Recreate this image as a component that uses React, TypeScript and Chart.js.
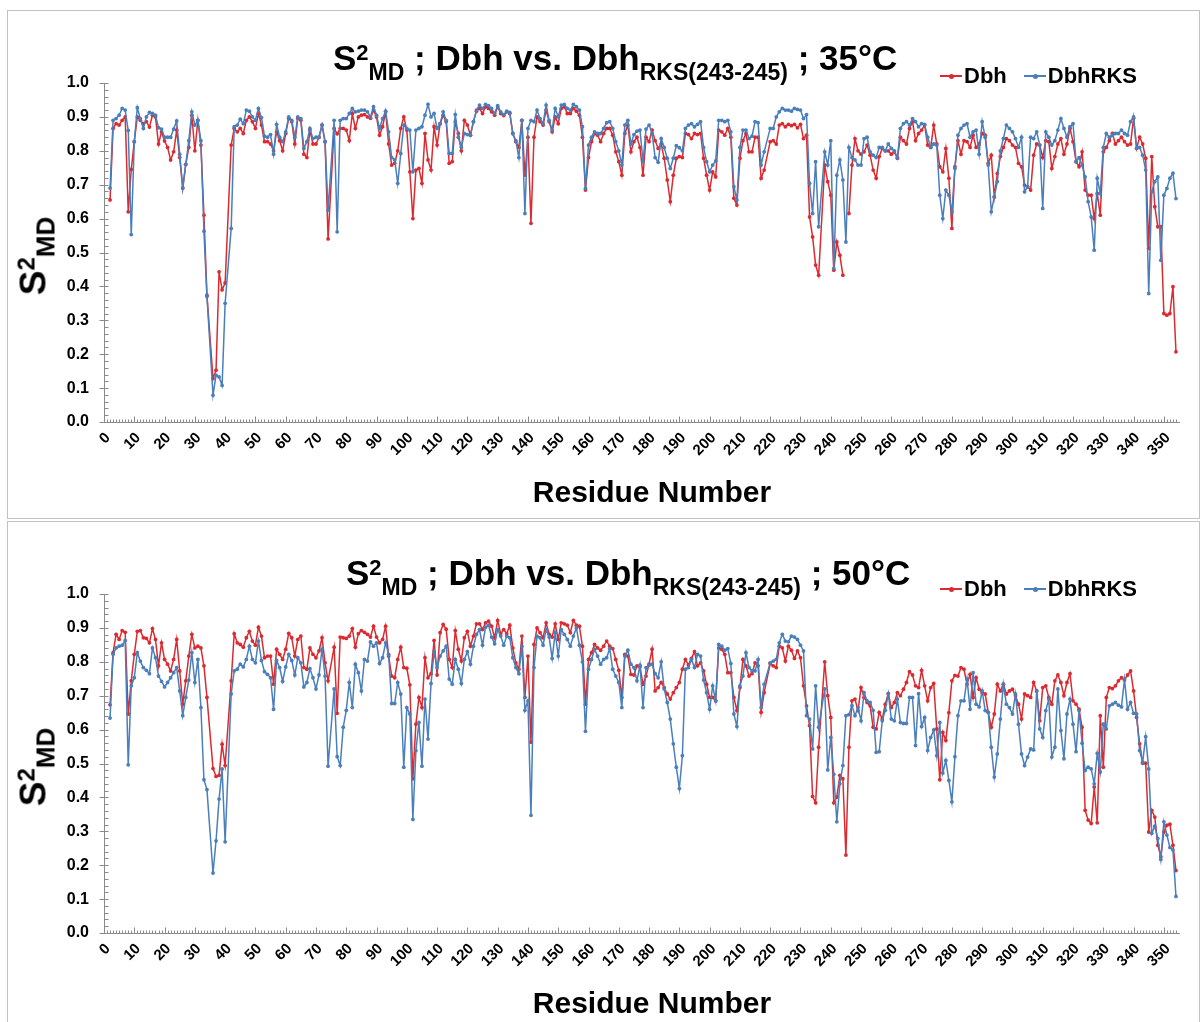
import React, { useEffect, useRef } from "react";
import { Chart, registerables } from "chart.js";
Chart.register(...registerables);

const FONT = "'Liberation Sans', Arial, Helvetica, sans-serif";
const RED = "#db2b30";
const BLUE = "#4a7fbb";
const AXIS = "#8a8a8a";

// residues 2..354 ; prolines have no amide N-H and no value
const RES_START = 2;
const RES_END = 354;
const PROLINES = [35, 41, 75, 219, 237];
const X_TICKS = [0, 10, 20, 30, 40, 50, 60, 70, 80, 90, 100, 110, 120, 130, 140, 150, 160, 170, 180, 190, 200, 210, 220, 230, 240, 250, 260, 270, 280, 290, 300, 310, 320, 330, 340, 350];
const Y_TICKS = [0, 0.1, 0.2, 0.3, 0.4, 0.5, 0.6, 0.7, 0.8, 0.9, 1.0];

const dbh35 = [
  .655,.866,.88,.876,.89,.90,.62,.745,
  .827,.90,.89,.88,.886,.87,.905,.90,.82,.856,
  .829,.81,.773,.797,.861,.78,.69,.76,.81,.905,
  .80,.89,.817,.61,.374,null,.128,.153,.443,.39,
  .41,null,.817,.866,.856,.866,.851,.89,.90,.886,
  .866,.91,.876,.827,.827,.82,.80,.856,.83,.80,
  .851,.896,.886,.82,.896,.89,.79,.78,.861,.82,
  .82,.84,.876,.827,.54,null,.866,.85,.866,.866,
  .861,.83,.91,.866,.90,.905,.907,.90,.896,.92,
  .90,.846,.871,.915,.82,.758,.763,.80,.866,.90,
  .861,.738,.60,.743,.748,.704,.851,.773,.743,.871,
  .817,.88,.905,.886,.763,.768,.886,.851,.80,.89,
  .876,.846,.886,.917,.925,.91,.93,.925,.915,.905,
  .93,.91,.904,.915,.91,.851,.827,.81,.89,.728,
  .84,.586,.84,.90,.886,.876,.92,.886,.856,.90,
  .88,.925,.93,.91,.91,.925,.917,.905,.84,.684,
  .78,.827,.851,.846,.827,.851,.866,.866,.846,.797,
  .768,.728,.851,.876,.797,.827,.84,.81,.728,.84,
  .827,.861,.83,.807,.82,.778,.714,.65,.728,.778,
  .783,.78,.851,.848,.836,.851,.848,.851,.778,.728,
  .684,.738,.723,.861,.856,.846,.866,.84,.66,.64,
  .778,.83,.851,.797,.797,.84,.84,.719,.743,null,
  .827,.83,.82,.876,.88,.871,.878,.874,.878,.868,
  .878,.836,.846,.605,.546,.463,.433,null,.758,.709,
  .669,.448,.531,.492,.433,null,.615,.758,.836,.80,
  .79,.797,.817,.787,.743,.719,.783,.807,.80,.80,
  .79,.797,.778,.84,.83,.82,.866,.886,.83,.851,
  .861,.876,.817,.81,.876,.82,.753,.738,.807,.719,
  .571,.753,.83,.79,.83,.827,.81,.846,.81,.82,
  .851,.846,.763,.787,.664,.733,.783,.81,.836,.83,
  .817,.81,.763,.753,.699,.694,.684,.787,.82,.817,
  .78,.83,.827,.748,.783,.82,.836,.79,.82,.866,
  .827,.768,.753,.797,.684,.669,.669,.60,.674,.61,
  .797,.81,.83,.851,.82,.83,.84,.827,.817,.82,
  .896,.807,.84,.82,.778,.512,.783,.635,.576,.576,
  .32,.315,.32,.399,.207,
];

const rks35 = [
  .69,.89,.895,.905,.925,.92,.86,.553,
  .827,.927,.895,.866,.90,.913,.91,.905,.868,.864,
  .84,.84,.84,.864,.888,.79,.69,.76,.83,.915,
  .876,.89,.83,.563,.37,null,.079,.138,.133,.108,
  .35,null,.571,.871,.876,.893,.88,.92,.917,.90,
  .89,.925,.898,.843,.84,.848,.79,.878,.84,.827,
  .856,.90,.89,.84,.90,.895,.807,.827,.866,.836,
  .84,.84,.876,.827,.625,null,.89,.561,.89,.895,
  .895,.91,.925,.915,.917,.92,.92,.915,.90,.93,
  .905,.866,.895,.917,.856,.78,.773,.704,.792,.876,
  .866,.861,.738,.861,.866,.871,.905,.937,.90,.91,
  .866,.88,.915,.89,.792,.792,.907,.84,.81,.851,
  .848,.846,.886,.92,.935,.925,.937,.933,.925,.91,
  .933,.915,.907,.917,.913,.851,.83,.78,.89,.615,
  .866,.89,.886,.92,.895,.88,.935,.89,.861,.925,
  .90,.935,.937,.925,.92,.937,.93,.92,.871,.689,
  .817,.84,.856,.851,.851,.866,.883,.886,.866,.827,
  .80,.758,.876,.89,.82,.848,.858,.861,.768,.864,
  .876,.851,.78,.766,.836,.81,.778,.748,.778,.815,
  .809,.80,.866,.876,.88,.871,.878,.886,.81,.768,
  .738,.758,.77,.89,.89,.886,.89,.856,.694,.655,
  .81,.861,.861,.836,.843,.886,.883,.758,.797,null,
  .866,.866,.90,.915,.925,.92,.92,.917,.925,.922,
  .92,.895,.907,.704,.615,.768,.576,null,.797,.758,
  .83,.453,.728,.773,.714,.531,.81,.78,.773,.758,
  .758,.836,.84,.797,.787,.78,.81,.81,.80,.82,
  .807,.80,.78,.866,.88,.886,.876,.895,.886,.871,
  .88,.878,.84,.81,.82,.817,.669,.60,.684,.669,
  .62,.748,.846,.866,.876,.88,.84,.856,.861,.79,
  .886,.84,.758,.62,.664,.709,.80,.836,.876,.866,
  .856,.836,.81,.84,.679,.694,.84,.836,.856,.817,
  .63,.856,.84,.817,.83,.861,.895,.866,.84,.871,
  .88,.768,.78,.758,.723,.65,.605,.507,.719,.674,
  .81,.851,.84,.846,.851,.851,.861,.851,.846,.886,
  .90,.807,.81,.787,.743,.379,.679,.709,.723,.477,
  .669,.689,.719,.734,.659,
];

const dbh50 = [
  .673,.827,.881,.866,.892,.887,.646,.744,
  .822,.89,.892,.871,.869,.856,.898,.866,.788,.856,
  .807,.793,.773,.807,.866,.773,.675,.744,.817,.881,
  .841,.846,.841,.788,.695,null,.485,.462,.465,.557,
  .494,null,.744,.883,.856,.851,.843,.871,.89,.861,
  .849,.902,.876,.812,.817,.817,.734,.837,.822,.807,
  .837,.884,.871,.817,.866,.876,.783,.778,.841,.822,
  .812,.832,.871,.797,.744,null,.843,.648,.873,.871,
  .869,.876,.898,.843,.883,.892,.887,.881,.873,.905,
  .873,.856,.866,.905,.817,.758,.753,.807,.843,.783,
  .781,.732,.455,.616,.695,.665,.812,.753,.765,.863,
  .761,.886,.91,.896,.807,.783,.892,.837,.802,.871,
  .89,.846,.876,.912,.912,.895,.915,.92,.905,.871,
  .922,.883,.895,.883,.908,.841,.797,.778,.876,.695,
  .817,.563,.851,.90,.886,.871,.915,.881,.873,.912,
  .866,.915,.912,.908,.886,.922,.908,.905,.846,.675,
  .807,.827,.851,.841,.834,.846,.861,.846,.839,.807,
  .775,.695,.822,.817,.763,.761,.788,.785,.734,.758,
  .793,.837,.714,.724,.739,.724,.705,.69,.709,.724,
  .739,.778,.807,.791,.81,.83,.788,.797,.773,.734,
  .695,.695,.685,.841,.837,.822,.768,.768,.695,.656,
  .724,.807,.788,.758,.765,.797,.788,.651,.709,null,
  .795,.788,.783,.846,.841,.802,.846,.834,.81,.832,
  .812,.729,.67,.612,.403,.384,.548,null,.80,.70,
  .636,.384,.401,.465,.455,.23,.548,.685,.69,.656,
  .724,.695,.68,.67,.607,.602,.651,.631,.675,.706,
  .665,.68,.709,.70,.719,.739,.771,.761,.729,.724,
  .775,.729,.685,.724,.736,.602,.452,.592,.568,.65,
  .744,.76,.758,.783,.778,.734,.763,.695,.753,.719,
  .709,.705,.651,.607,.646,.734,.714,.734,.705,.714,
  .719,.70,.675,.631,.705,.70,.695,.739,.714,.626,
  .724,.729,.695,.675,.744,.761,.739,.70,.739,.765,
  .685,.675,.66,.607,.362,.333,.323,.431,.325,.641,
  .489,.695,.724,.721,.729,.744,.753,.746,.761,.773,
  .714,.636,.558,.501,.501,.298,.362,.342,.259,.225,
  .298,.318,.321,.259,.184,
];

const rks50 = [
  .634,.822,.841,.846,.849,.863,.496,.729,
  .753,.827,.802,.783,.775,.765,.841,.812,.758,.742,
  .726,.739,.753,.768,.783,.714,.641,.695,.746,.827,
  .739,.807,.665,.452,.423,null,.177,.272,.395,.484,
  .269,null,.705,.773,.778,.793,.785,.807,.846,.807,
  .797,.861,.804,.771,.763,.753,.66,.804,.783,.742,
  .785,.822,.804,.761,.812,.797,.726,.739,.78,.753,
  .72,.761,.837,.758,.492,null,.72,.52,.494,.607,
  .657,.739,.665,.793,.768,.714,.807,.802,.859,.846,
  .856,.795,.812,.856,.822,.677,.677,.739,.705,.489,
  .665,.646,.335,.538,.621,.492,.69,.572,.736,.83,
  .783,.817,.832,.846,.749,.734,.807,.778,.736,.807,
  .83,.793,.846,.881,.895,.849,.902,.908,.873,.853,
  .895,.876,.849,.876,.871,.812,.783,.765,.846,.657,
  .685,.347,.783,.876,.871,.849,.895,.873,.81,.886,
  .817,.895,.881,.866,.846,.876,.90,.849,.80,.595,
  .778,.807,.837,.817,.793,.807,.812,.839,.778,.758,
  .739,.665,.817,.834,.793,.783,.744,.79,.665,.783,
  .79,.793,.765,.753,.80,.72,.68,.631,.558,.489,
  .426,.523,.778,.783,.807,.783,.822,.817,.746,.709,
  .66,.729,.685,.851,.846,.834,.839,.795,.646,.609,
  .729,.758,.827,.783,.773,.773,.807,.665,.734,null,
  .797,.802,.807,.856,.881,.861,.859,.876,.873,.866,
  .849,.832,.641,.631,.543,.729,.607,null,.72,.481,
  .577,.468,.328,.44,.494,.641,.644,.671,.641,.665,
  .626,.709,.685,.68,.657,.533,.535,.626,.657,.706,
  .631,.626,.69,.621,.618,.618,.695,.695,.553,.706,
  .609,.636,.538,.577,.599,.523,.621,.472,.509,.45,
  .387,.52,.641,.685,.685,.749,.66,.768,.675,.667,
  .714,.656,.651,.548,.46,.528,.631,.734,.675,.665,
  .646,.705,.616,.528,.494,.519,.543,.54,.714,.602,
  .577,.656,.69,.519,.548,.72,.597,.514,.646,.69,
  .616,.535,.656,.56,.479,.489,.484,.44,.53,.475,
  .616,.602,.67,.675,.68,.672,.667,.749,.66,.68,
  .648,.646,.538,.504,.579,.484,.294,.315,.279,.217,
  .328,.289,.252,.245,.108,
];

function buildPoints(values: (number | null)[]) {
  const pts: { x: number; y: number | null }[] = [];
  for (let r = RES_START; r <= RES_END; r++) {
    if (PROLINES.includes(r)) continue;
    pts.push({ x: r, y: values[r - RES_START] });
  }
  return pts;
}

const minorTicks = {
  id: "minorTicks",
  afterDraw(chart: any) {
    const { ctx, scales } = chart;
    const x = scales.x;
    const y = scales.y;
    ctx.save();
    ctx.strokeStyle = AXIS;
    ctx.lineWidth = 1;
    ctx.beginPath();
    const y0 = Math.round(y.getPixelForValue(0)) + 0.5;
    for (let r = 0; r <= 354; r++) {
      const px = Math.round(x.getPixelForValue(r)) + 0.5;
      const major = r % 10 === 0;
      ctx.moveTo(px, y0);
      ctx.lineTo(px, y0 - (major ? 6 : 3));
    }
    const x0 = Math.round(x.getPixelForValue(0)) + 0.5;
    for (let i = 0; i <= 50; i++) {
      const py = Math.round(y.getPixelForValue(i / 50)) + 0.5;
      const major = i % 5 === 0;
      ctx.moveTo(major ? x0 - 5 : x0, py);
      ctx.lineTo(x0 + 4, py);
    }
    ctx.stroke();
    ctx.restore();
  },
};

function Canvas({ dbh, rks }: { dbh: (number | null)[]; rks: (number | null)[] }) {
  const ref = useRef<HTMLCanvasElement>(null);
  useEffect(() => {
    if (!ref.current) return;
    const ds = (label: string, values: (number | null)[], color: string, order: number) => ({
      label,
      data: buildPoints(values),
      borderColor: color,
      backgroundColor: color,
      borderWidth: 1.5,
      pointRadius: 1.9,
      pointBorderWidth: 0,
      pointBackgroundColor: color,
      pointHoverRadius: 0,
      tension: 0,
      spanGaps: false,
      order,
    });
    const chart = new Chart(ref.current, {
      type: "line",
      data: {
        datasets: [ds("DbhRKS", rks, BLUE, 0), ds("Dbh", dbh, RED, 1)] as any,
      },
      options: {
        animation: false,
        responsive: false,
        maintainAspectRatio: false,
        layout: { padding: { left: 0, right: 20, top: 72, bottom: 0 } },
        plugins: { legend: { display: false }, tooltip: { enabled: false }, title: { display: false } },
        scales: {
          x: {
            type: "linear",
            min: 0,
            max: 355,
            afterFit: (s: any) => { s.height = 96; },
            afterBuildTicks: (s: any) => { s.ticks = X_TICKS.map((v) => ({ value: v })); },
            grid: { display: false, drawTicks: false },
            border: { display: true, color: AXIS, width: 1 },
            ticks: {
              autoSkip: false,
              maxRotation: 45,
              minRotation: 45,
              padding: 7,
              labelOffset: 4,
              color: "#000",
              font: { family: FONT, size: 15, weight: "bold" },
              callback: (v: any) => String(v),
            },
          },
          y: {
            type: "linear",
            min: 0,
            max: 1,
            afterFit: (s: any) => { s.width = 96; },
            afterBuildTicks: (s: any) => { s.ticks = Y_TICKS.map((v) => ({ value: v })); },
            grid: { display: false, drawTicks: false },
            border: { display: true, color: AXIS, width: 1 },
            ticks: {
              padding: 15,
              color: "#000",
              font: { family: FONT, size: 16, weight: "bold" },
              callback: (v: any) => Number(v).toFixed(1),
            },
          },
        },
      } as any,
      plugins: [minorTicks],
    });
    return () => chart.destroy();
  }, []);
  return <canvas ref={ref} width={1191} height={507} style={{ display: "block", position: "absolute", left: 0, top: 0 }} />;
}

function Panel({ top, height, temp, dbh, rks, titleLeft, titleTop, legendTop }: any) {
  const sub = (t: string, size: number, dy: number) => (
    <span style={{ fontSize: size, position: "relative", top: dy }}>{t}</span>
  );
  return (
    <div style={{ position: "absolute", left: 7, top, width: 1191, height, border: "1px solid #c2c2c2", overflow: "hidden" }}>
      <Canvas dbh={dbh} rks={rks} />
      <div style={{ position: "absolute", left: titleLeft, top: titleTop, fontSize: 35, lineHeight: "35px", fontWeight: "bold", whiteSpace: "nowrap", color: "#000" }}>
        S{sub("2", 22, -10)}{sub("MD", 23, 10)} ; Dbh vs. Dbh{sub("RKS(243-245)", 23, 10)} ; {temp}
      </div>
      <div style={{ position: "absolute", left: 932, top: legendTop, height: 24, display: "flex", alignItems: "center", fontSize: 22, fontWeight: "bold", whiteSpace: "nowrap" }}>
        <span style={{ position: "relative", width: 22, height: 2, background: RED, display: "inline-block", marginRight: 2 }}>
          <span style={{ position: "absolute", left: 9, top: -1.5, width: 5, height: 5, borderRadius: 3, background: RED }} />
        </span>
        <span>Dbh</span>
        <span style={{ position: "relative", width: 22, height: 2, background: BLUE, display: "inline-block", marginLeft: 17, marginRight: 2 }}>
          <span style={{ position: "absolute", left: 9, top: -1.5, width: 5, height: 5, borderRadius: 3, background: BLUE }} />
        </span>
        <span>DbhRKS</span>
      </div>
      <div style={{ position: "absolute", left: 27, top: 245, transform: "translate(-50%, -50%) rotate(-90deg)", fontSize: 37, lineHeight: "37px", fontWeight: "bold", whiteSpace: "nowrap" }}>
        S{sub("2", 24, -11)}{sub("MD", 26, 9)}
      </div>
      <div style={{ position: "absolute", left: 644, top: 481, transform: "translate(-50%, -50%)", fontSize: 30, lineHeight: "30px", fontWeight: "bold", whiteSpace: "nowrap" }}>
        Residue Number
      </div>
    </div>
  );
}

export default function App() {
  return (
    <div style={{ position: "absolute", left: 0, top: 0, width: 1201, height: 1022, overflow: "hidden", background: "#fff", fontFamily: FONT }}>
      <Panel top={10} height={507} temp="35°C" dbh={dbh35} rks={rks35} titleLeft={325} titleTop={29} legendTop={53} />
      <Panel top={521} height={510} temp="50°C" dbh={dbh50} rks={rks50} titleLeft={338} titleTop={33} legendTop={55} />
    </div>
  );
}
